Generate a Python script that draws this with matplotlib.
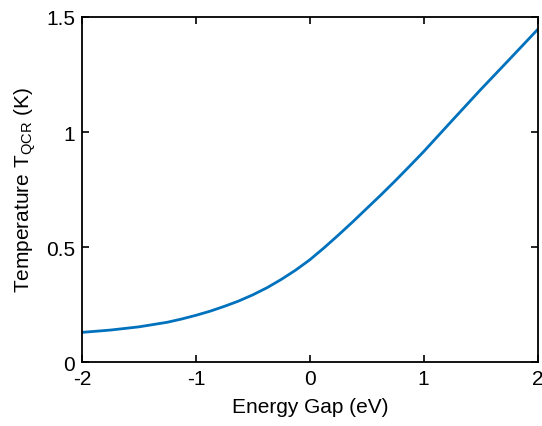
import matplotlib
matplotlib.use("Agg")
import matplotlib.pyplot as plt

# values
energy_gap = [-2.0, -1.75, -1.5, -1.25, -1.125, -1.0, -0.875, -0.75, -0.625,
              -0.5, -0.375, -0.25, -0.125, 0.0, 0.125, 0.25, 0.375, 0.5,
              0.625, 0.75, 0.875, 1.0, 1.25, 1.5, 1.75, 2.0]
temperature = [0.130, 0.140, 0.154, 0.174, 0.188, 0.204, 0.222, 0.243, 0.266,
               0.293, 0.324, 0.360, 0.400, 0.445, 0.497, 0.552, 0.609, 0.668,
               0.727, 0.788, 0.851, 0.915, 1.050, 1.184, 1.314, 1.445]
xticks = [-2, -1, 0, 1, 2]
xtick_labels = ["-2", "-1", "0", "1", "2"]
yticks = [0, 0.5, 1, 1.5]
ytick_labels = ["0", "0.5", "1", "1.5"]

plt.rcParams["font.family"] = ["Liberation Sans", "DejaVu Sans"]
plt.rcParams["mathtext.fontset"] = "custom"
plt.rcParams["mathtext.rm"] = "Liberation Sans"
plt.rcParams["axes.unicode_minus"] = False

fig = plt.figure(figsize=(5.42, 4.27), dpi=100)
ax = fig.add_axes([0.1513, 0.1492, 0.8404, 0.8087])

ax.plot(energy_gap, temperature, color="#0072BD", lw=2.0)

ax.set_xlim(-2, 2)
ax.set_ylim(0, 1.5)
ax.set_xticks(xticks)
ax.set_xticklabels(xtick_labels)
ax.set_yticks(yticks)
ax.set_yticklabels(ytick_labels)
ax.tick_params(direction="in", length=5, width=1.2, labelsize=15,
               top=True, right=True, pad=5)
for s in ax.spines.values():
    s.set_linewidth(1.3)

ax.set_xlabel("Energy Gap (eV)", fontsize=15, labelpad=6)
ax.set_ylabel(r"Temperature T$_{\mathrm{QCR}}$ (K)", fontsize=15, labelpad=6)

fig.savefig("out.png", dpi=100)
